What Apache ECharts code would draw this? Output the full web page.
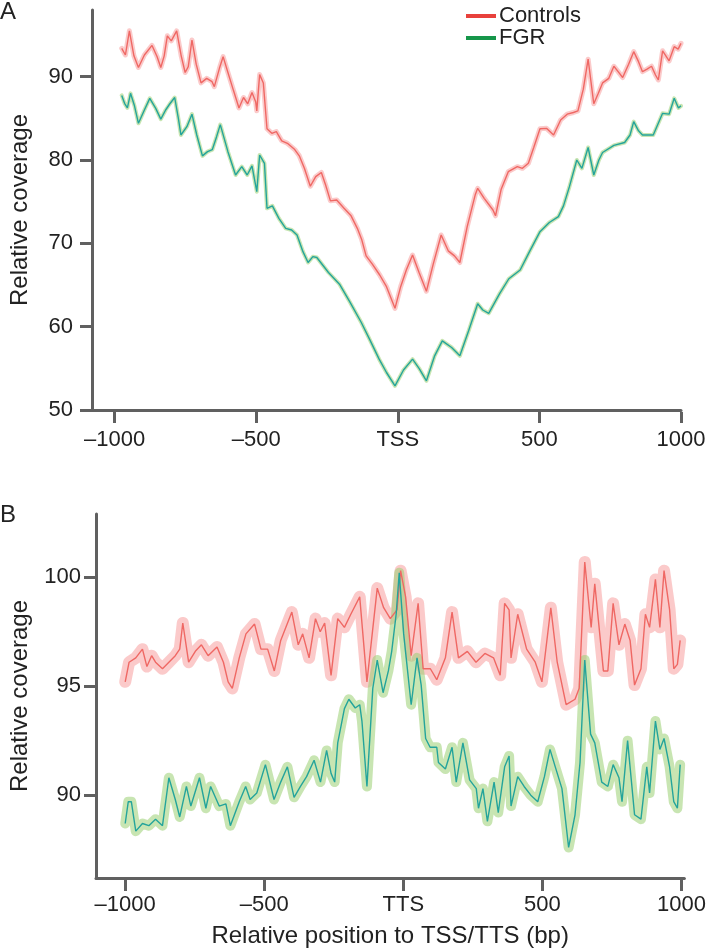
<!DOCTYPE html>
<html>
<head>
<meta charset="utf-8">
<script src="https://cdn.jsdelivr.net/npm/echarts@6/dist/echarts.min.js"></script>
<style>
html,body{margin:0;padding:0;background:#fff;}
#chart{width:709px;height:949px;}
</style>
</head>
<body>
<div id="chart"></div>
<script>
// ---------- Panel A (TSS) ----------
const posCtrlA = [-975,-962,-948,-932,-916,-895,-868,-850,-837,-825,-814,-800,-781,-765,-751,-740,-727,-712,-695,-675,-656,-648,-630,-617,-600,-580,-561,-545,-530,-515,-502,-498,-488,-475,-462,-445,-429,-410,-390,-364,-348,-330,-309,-290,-270,-255,-238,-216,-190,-165,-143,-128,-112,-90,-64,-40,-10,10,30,52,75,101,125,153,178,200,219,245,274,282,305,336,345,365,390,422,440,461,480,502,525,550,575,598,620,636,655,672,692,708,723,745,763,778,794,815,833,850,864,880,896,910,920,935,958,976,990,1000];
const valCtrlA = [93.4,92.6,95.5,92.5,91.1,92.6,93.75,92.4,91.1,92.5,94.9,94.3,95.5,92.5,90.5,91.2,94.4,91.5,89.25,89.8,89.4,88.8,91.0,92.4,90.5,88.3,86.25,87.5,86.75,88.1,87.0,85.9,90.25,89.25,83.75,83.2,83.4,82.3,82.0,81.25,80.5,79.0,76.85,78.0,78.5,77.0,75.1,75.2,74.2,73.3,71.8,70.5,68.5,67.5,66.2,64.8,62.2,64.8,66.8,68.6,66.5,64.25,67.5,71.0,69.1,68.5,67.7,72.0,75.9,76.6,75.4,74.0,73.3,76.5,78.6,79.2,79.0,79.6,81.5,83.75,83.8,83.0,84.8,85.5,85.7,85.9,88.5,92.1,86.75,88.0,89.25,89.8,91.25,90.6,89.9,91.5,93.0,91.8,90.6,90.9,91.25,90.2,89.6,93.1,91.9,93.6,93.3,94.0];
const posFgrA = [-975,-965,-955,-944,-930,-916,-895,-876,-855,-837,-820,-805,-788,-775,-766,-745,-727,-710,-690,-672,-655,-640,-627,-600,-573,-551,-532,-515,-498,-488,-471,-462,-443,-420,-396,-375,-356,-335,-317,-300,-286,-245,-206,-170,-129,-100,-66,-40,-10,20,52,75,101,130,157,190,219,250,282,300,321,360,392,432,465,502,535,567,585,606,632,650,672,692,710,723,763,801,820,833,850,864,902,935,958,976,991,1000];
const valFgrA = [87.75,86.8,86.25,88.0,86.5,84.4,86.0,87.4,86.2,84.9,86.0,86.75,87.5,85.0,83.0,84.0,85.5,83.0,80.5,81.0,81.25,82.8,84.25,81.0,78.2,79.2,78.2,79.3,76.2,80.6,79.6,74.2,74.5,73.0,71.8,71.6,71.0,69.0,67.7,68.4,68.3,66.5,65.1,63.0,60.5,58.5,56.1,54.5,52.9,54.8,56.1,55.0,53.5,56.5,58.3,57.5,56.5,59.5,62.75,62.0,61.6,64.0,65.75,66.8,69.0,71.4,72.5,73.2,74.5,76.8,80.0,79.0,81.5,78.2,80.0,80.9,81.75,82.1,83.0,84.6,83.5,83.0,83.0,85.6,85.5,87.4,86.25,86.5];
const tickValuesA = [-1000,-500,0,500,1000];
const tickLabelsA = ['\u20131000','\u2013500','TSS','500','1000'];
const yTicksA = [50,60,70,80,90];

// ---------- Panel B (TTS) ----------
const posCtrlB = [-1000,-986,-962,-938,-922,-905,-891,-866,-843,-820,-804,-793,-772,-748,-726,-702,-670,-647,-630,-615,-590,-566,-535,-512,-488,-464,-441,-401,-378,-362,-339,-316,-299,-283,-260,-236,-212,-189,-157,-131,-94,-71,-47,-23,-10,8,28,53,71,97,120,151,175,198,230,261,293,324,348,364,380,387,411,443,474,498,530,553,585,617,632,652,675,688,719,735,754,775,796,815,831,854,870,885,906,922,937,957,972,985,995];
const valCtrlB = [95.2,96.1,96.3,96.7,95.9,96.4,96.1,95.8,96.1,96.4,96.7,97.9,96.1,96.6,96.9,96.4,96.8,96.1,95.2,94.9,96.3,97.4,97.85,96.7,96.7,95.7,97.1,98.4,96.9,97.4,96.3,98.1,97.5,97.9,95.5,98.1,97.7,98.3,99.1,95.2,99.5,98.6,98.1,98.5,100.3,99.1,96.4,98.8,95.8,95.8,95.3,96.3,98.4,96.3,96.6,96.1,96.5,96.3,95.5,98.8,98.5,96.3,98.3,96.7,96.1,95.2,98.6,96.1,94.15,94.4,94.9,100.7,97.7,99.7,95.7,95.7,98.8,96.9,97.85,97.1,95.05,95.8,98.3,97.7,99.9,97.7,100.3,98.5,95.8,96.0,97.1];
const posFgrB = [-1000,-989,-978,-962,-938,-915,-891,-866,-843,-820,-804,-780,-764,-733,-710,-693,-662,-638,-622,-590,-567,-551,-527,-496,-465,-441,-417,-393,-370,-348,-321,-298,-276,-260,-247,-236,-212,-196,-173,-157,-149,-131,-110,-94,-73,-54,-42,-26,-15,1,28,49,64,80,96,120,126,151,175,190,214,238,262,270,286,302,326,341,364,380,387,411,434,458,483,507,527,546,570,594,617,635,652,673,688,713,735,754,775,786,806,831,854,875,885,906,922,937,957,972,985,995];
const valFgrB = [88.7,89.7,89.7,88.35,88.7,88.6,88.9,88.6,90.8,89.8,89.0,90.4,89.5,90.8,89.4,90.4,89.5,89.6,88.6,89.7,90.4,89.8,90.1,91.4,89.8,90.6,91.3,89.9,90.4,90.85,91.6,90.6,92.05,91.0,90.6,92.4,93.97,94.4,94.0,94.15,93.4,90.4,94.9,96.2,94.7,95.7,96.6,98.3,100.2,97.4,94.15,96.3,95.05,92.6,92.2,92.2,91.5,91.2,92.2,90.6,92.4,90.7,90.3,89.4,90.3,88.8,90.6,89.2,91.3,91.8,89.5,90.85,90.4,90.0,89.7,90.85,92.1,91.3,90.3,87.6,89.1,91.5,96.2,92.8,92.4,90.6,90.4,91.4,90.8,89.7,92.5,89.1,88.9,91.3,90.1,93.4,92.1,92.6,91.3,89.7,89.4,91.4];
const tickValuesB = [-1000,-500,0,500,1000];
const tickLabelsB = ['\u20131000','\u2013500','TTS','500','1000'];
const yTicksB = [90,95,100];

const legendNames = ['Controls','FGR'];

// ---------- styles ----------
const FONT = '"Liberation Sans", Arial, sans-serif';
const AXIS = '#606060';
const TXT = '#222';
const RED_LINE = '#ef6864', RED_BAND = 'rgba(248,150,150,0.5)';
const GRN_LINE = '#24a49b', GRN_BAND = 'rgba(155,208,115,0.55)';

function pairs(p, v){ return p.map((x,i)=>[x, v[i]]); }
function fmt(vals, labels){ return v => { const i = vals.indexOf(v); return i>=0 ? labels[i] : ''; }; }

function lineAxisX(grid, min, max){
  return {type:'value', gridIndex:grid, min:min, max:max, position:'bottom',
    axisLine:{show:true, onZero:false, lineStyle:{color:AXIS,width:3}},
    axisTick:{show:false}, axisLabel:{show:false}, splitLine:{show:false}};
}
function labelAxisX(grid, min, max, vals, labels, margin, name, nameGap){
  return {type:'value', gridIndex:grid, min:min, max:max, position:'bottom', offset:2,
    axisLine:{show:false},
    axisTick:{show:true, length:11, customValues:vals, lineStyle:{color:AXIS,width:3}},
    axisLabel:{show:true, customValues:vals, formatter:fmt(vals,labels), margin:margin,
      fontSize:22, color:TXT, fontFamily:FONT},
    splitLine:{show:false},
    name:name, nameLocation:'middle', nameGap:nameGap,
    nameTextStyle:{fontSize:24, color:TXT, fontFamily:FONT}};
}
function yAxis(grid, min, max, ticks, nameGap, margin){
  return {type:'value', gridIndex:grid, min:min, max:max,
    axisLine:{show:true, onZero:false, lineStyle:{color:AXIS,width:3}},
    axisTick:{show:true, length:12, customValues:ticks, lineStyle:{color:AXIS,width:3}},
    axisLabel:{show:true, customValues:ticks, margin:margin, fontSize:22, color:TXT, fontFamily:FONT},
    splitLine:{show:false},
    name:'Relative coverage', nameLocation:'middle', nameGap:nameGap, nameRotate:90,
    nameTextStyle:{fontSize:24, color:TXT, fontFamily:FONT}};
}
function band(name, xi, yi, data, color, width){
  return {name:name, type:'line', xAxisIndex:xi, yAxisIndex:yi, data:data, showSymbol:false,
    symbol:'none', lineStyle:{color:color, width:width, join:'round', cap:'round'}, z:1, silent:true, animation:false};
}
function line(name, xi, yi, data, color){
  return {name:name, type:'line', xAxisIndex:xi, yAxisIndex:yi, data:data, showSymbol:false,
    symbol:'none', lineStyle:{color:color, width:1.4}, itemStyle:{color:color}, z:3, silent:true, animation:false};
}

const cA = pairs(posCtrlA, valCtrlA), fA = pairs(posFgrA, valFgrA);
const cB = pairs(posCtrlB, valCtrlB), fB = pairs(posFgrB, valFgrB);

const chart = echarts.init(document.getElementById('chart'), null, {renderer:'canvas'});
chart.setOption({
  backgroundColor:'#fff',
  animation:false,
  grid:[
    {left:84, top:10, width:597, height:400},
    {left:88, top:514, width:606, height:366}
  ],
  xAxis:[
    lineAxisX(0,-1080,1000),
    labelAxisX(0,-1080,1000,tickValuesA,tickLabelsA,17,'',0),
    lineAxisX(1,-1105,1010),
    labelAxisX(1,-1105,1010,tickValuesB,tickLabelsB,14,'Relative position to TSS/TTS (bp)',44)
  ],
  yAxis:[
    yAxis(0,50,98,yTicksA,60,19),
    yAxis(1,86.2,102.9,yTicksB,64,15)
  ],
  legend:{
    show:true, left:461, top:0, orient:'vertical', icon:'rect', itemWidth:30, itemHeight:4,
    itemGap:0, selectedMode:false,
    textStyle:{fontSize:22, color:TXT, fontFamily:FONT, lineHeight:22, padding:[0,0,0,-2]},
    data:[{name:legendNames[0], itemStyle:{color:'#e8413c'}}, {name:legendNames[1], itemStyle:{color:'#16964a'}}]
  },
  graphic:[
    {type:'text', left:0, top:0, style:{text:'A', fontSize:24, fill:TXT, fontFamily:FONT}},
    {type:'text', left:0, top:503, style:{text:'B', fontSize:24, fill:TXT, fontFamily:FONT}}
  ],
  series:[
    band('Controls band A',0,0,cA,RED_BAND,5),
    band('FGR band A',0,0,fA,GRN_BAND,4),
    line(legendNames[0],0,0,cA,RED_LINE),
    line(legendNames[1],0,0,fA,GRN_LINE),
    band('Controls band B',2,1,cB,RED_BAND,12),
    band('FGR band B',2,1,fB,GRN_BAND,10),
    line(legendNames[0],2,1,cB,RED_LINE),
    line(legendNames[1],2,1,fB,GRN_LINE)
  ]
});
</script>
</body>
</html>
